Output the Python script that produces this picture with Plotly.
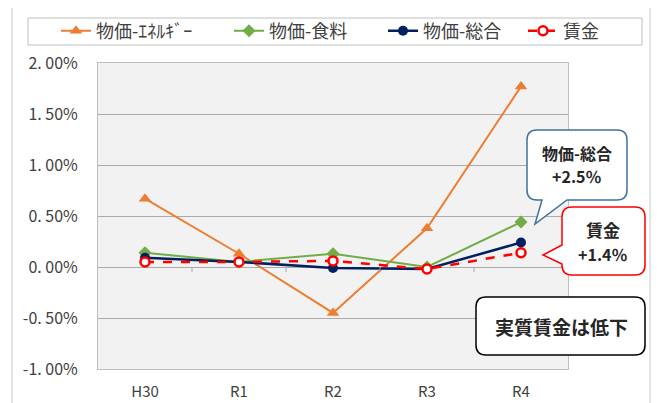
import plotly.graph_objects as go

categories = ["H30", "R1", "R2", "R3", "R4"]
energy = [0.67, 0.13, -0.45, 0.38, 1.77]
food = [0.14, 0.05, 0.13, 0.00, 0.44]
overall = [0.09, 0.05, -0.01, -0.02, 0.24]
wage = [0.05, 0.05, 0.06, -0.02, 0.14]
series_names = ["物価-ｴﾈﾙｷﾞｰ", "物価-食料", "物価-総合", "賃金"]
ytick_vals = [-1.0, -0.5, 0.0, 0.5, 1.0, 1.5, 2.0]
ytick_text = ["-1. 00%", "-0. 50%", "0. 00%", "0. 50%", "1. 00%", "1. 50%", "2. 00%"]

# the page body has an 8px margin: reference pixel = figure pixel + OFF
OFF = 8
W, H = 659 - OFF, 403 - OFF
PL, PR, PT, PB = 98, 568, 63, 369          # plot area in reference pixels
ML, MT = PL - OFF, PT - OFF
MR, MB = W - (PR - OFF), H - (PB - OFF)
PW, PH = PR - PL, PB - PT

def px(x):
    return (x - PL) / PW

def py(y):
    return (PB - y) / PH

FONT = "Noto Sans CJK JP"

fig = go.Figure()
fig.add_trace(go.Scatter(x=categories, y=energy, name=series_names[0], mode="lines+markers",
                         line=dict(color="#ED7D31", width=2), legend="legend",
                         marker=dict(symbol="triangle-up", size=11, color="#ED7D31")))
fig.add_trace(go.Scatter(x=categories, y=food, name=series_names[1], mode="lines+markers",
                         line=dict(color="#70AD47", width=2), legend="legend2",
                         marker=dict(symbol="diamond", size=10, color="#70AD47")))
fig.add_trace(go.Scatter(x=categories, y=overall, name=series_names[2], mode="lines+markers",
                         line=dict(color="#002060", width=2.5), legend="legend3",
                         marker=dict(symbol="circle", size=10, color="#002060")))
fig.add_trace(go.Scatter(x=categories, y=wage, name=series_names[3], mode="lines+markers",
                         line=dict(color="#FF0000", width=2.5, dash="dash"), legend="legend4",
                         marker=dict(symbol="circle", size=9, color="white",
                                     line=dict(color="#FF0000", width=2.5))))

shapes = []
# outer chart border
shapes.append(dict(type="rect", xref="paper", yref="paper", x0=px(12), x1=px(650), y0=py(420), y1=py(5),
                   line=dict(color="#C8C8C8", width=1), layer="below"))
# legend box
shapes.append(dict(type="rect", xref="paper", yref="paper", x0=px(28), x1=px(642), y0=py(45), y1=py(18),
                   line=dict(color="#BFBFBF", width=1)))
# small ticks at zero line between categories
for i in range(len(categories) - 1):
    shapes.append(dict(type="line", xref="x", yref="y", x0=i + 0.5, x1=i + 0.5, y0=0, y1=-0.05,
                       line=dict(color="#A6A6A6", width=1)))

def rounded_box(x0, y0, x1, y1, r, tail=None):
    d = f"M {px(x0 + r)},{py(y0)} "
    d += f"L {px(x1 - r)},{py(y0)} Q {px(x1)},{py(y0)} {px(x1)},{py(y0 + r)} "
    d += f"L {px(x1)},{py(y1 - r)} Q {px(x1)},{py(y1)} {px(x1 - r)},{py(y1)} "
    if tail and tail[0] == "bottom":
        for (tx, ty) in reversed(tail[1]):
            d += f"L {px(tx)},{py(ty)} "
    d += f"L {px(x0 + r)},{py(y1)} Q {px(x0)},{py(y1)} {px(x0)},{py(y1 - r)} "
    if tail and tail[0] == "left":
        for (tx, ty) in tail[1]:
            d += f"L {px(tx)},{py(ty)} "
    d += f"L {px(x0)},{py(y0 + r)} Q {px(x0)},{py(y0)} {px(x0 + r)},{py(y0)} Z"
    return d

shapes.append(dict(type="path", xref="paper", yref="paper",
                   path=rounded_box(527, 130, 627, 200, 10,
                                    tail=("bottom", [(542, 200), (535, 224), (567, 200)])),
                   fillcolor="white", line=dict(color="#41719C", width=1.5)))
shapes.append(dict(type="path", xref="paper", yref="paper",
                   path=rounded_box(562, 207, 645, 275, 10,
                                    tail=("left", [(562, 264), (543, 255), (562, 245)])),
                   fillcolor="white", line=dict(color="#FF0000", width=1.5)))
shapes.append(dict(type="path", xref="paper", yref="paper",
                   path=rounded_box(476, 297, 645, 355, 10),
                   fillcolor="white", line=dict(color="#000000", width=1.5)))

def note(text, x, y, size):
    return dict(text=f"<b>{text}</b>", x=px(x), y=py(y), xref="paper", yref="paper", showarrow=False,
                xanchor="center", yanchor="middle", font=dict(size=size, color="#262626", family=FONT))

annotations = [
    note("物価-総合", 577, 153, 16),
    note("+2.5％", 577, 176, 16),
    note("賃金", 603, 229, 17),
    note("+1.4％", 603, 254, 16),
    note("実質賃金は低下", 561, 326, 19),
]

def leg(xpix):
    return dict(orientation="h", x=px(xpix), y=py(31), xanchor="left", yanchor="middle",
                bgcolor="rgba(0,0,0,0)", borderwidth=0, font=dict(size=18, color="#404040", family=FONT))

fig.update_layout(
    width=W, height=H,
    margin=dict(l=ML, r=MR, t=MT, b=MB, pad=0, autoexpand=False),
    paper_bgcolor="white",
    plot_bgcolor="#F2F2F2",
    font=dict(family=FONT, color="#404040"),
    showlegend=True,
    legend=leg(56), legend2=leg(229), legend3=leg(383), legend4=leg(523),
    shapes=shapes,
    annotations=annotations,
    xaxis=dict(type="category", range=[-0.5, 4.5], showgrid=False, ticks="", showline=True, mirror=True,
               linecolor="#BFBFBF", linewidth=1, tickfont=dict(size=15, color="#404040"), ticklabelstandoff=9,
               zeroline=False),
    yaxis=dict(range=[-1.0, 2.0], tickvals=ytick_vals, ticktext=ytick_text, showgrid=True, gridcolor="#ABABAB",
               gridwidth=1, showline=True, mirror=True, linecolor="#BFBFBF", linewidth=1, zeroline=False,
               ticks="", tickfont=dict(size=16, color="#404040"), ticklabelstandoff=16),
)

fig.write_html("out.html")
